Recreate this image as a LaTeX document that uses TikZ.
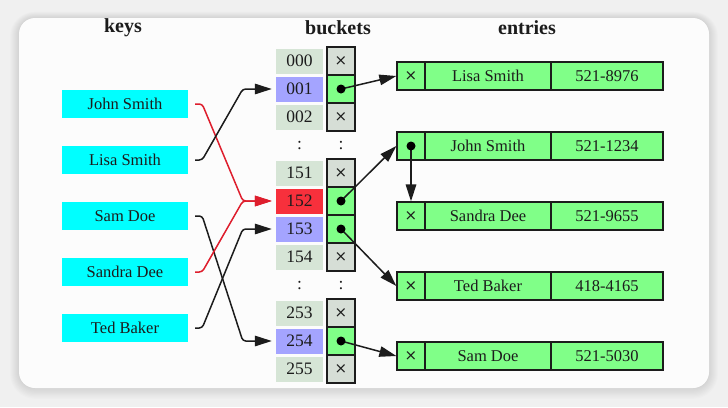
\documentclass[tikz,border=0pt]{standalone}
\usepackage{fontspec}
\setmainfont{Liberation Serif}
\newfontfamily\crossfont{DejaVu Sans}
\usetikzlibrary{arrows.meta}
\definecolor{bgout}{RGB}{240,240,240}
\definecolor{panelc}{RGB}{252,252,252}
\definecolor{ink}{RGB}{28,28,28}
\definecolor{keyc}{RGB}{0,255,255}
\definecolor{nullc}{RGB}{214,229,214}
\definecolor{ptrnull}{RGB}{214,222,214}
\definecolor{usedc}{RGB}{164,164,255}
\definecolor{hitc}{RGB}{247,48,60}
\definecolor{greenc}{RGB}{128,255,136}
\definecolor{redl}{RGB}{222,30,45}
\tikzset{
  txt/.style={text=ink, font=\fontsize{16.5}{19}\selectfont, inner sep=0pt},
  labtxt/.style={text=ink, font=\fontsize{17.5}{19}\selectfont, inner sep=0pt},
  crosstxt/.style={text=ink, font=\crossfont\fontsize{15}{17}\selectfont, inner sep=0pt},
  hdr/.style={text=ink, font=\fontsize{20}{23}\selectfont\bfseries, inner sep=0pt},
  keybox/.style={txt, fill=keyc, minimum width=126pt, minimum height=28pt},
  labcell/.style={labtxt, minimum width=47pt, minimum height=25pt},
  ptrcell/.style={crosstxt, draw=ink, line width=1.3pt, minimum width=28pt, minimum height=28pt},
  entcell/.style={txt, draw=ink, line width=1.3pt, fill=greenc, minimum height=28pt},
  entptr/.style={crosstxt, draw=ink, line width=1.3pt, fill=greenc, minimum height=28pt, minimum width=28pt},
  arr/.style={draw=ink, line width=1.5pt, -{Triangle[length=17pt,width=10.5pt]}},
  keyarr/.style={arr, rounded corners=3pt},
  redarr/.style={keyarr, color=redl},
  dotc/.style={fill=black}
}
\begin{document}
\begin{tikzpicture}[x=1pt,y=-1pt]
\useasboundingbox (0,0) rectangle (728,407);
\fill[bgout] (0,0) rectangle (728,407);
\foreach \s in {1,...,9}{
  \fill[black,opacity=0.011,rounded corners={16pt+\s pt}] ({19-\s},{18-\s*0.7}) rectangle ({709+\s},{388+\s*1.2});
}
\fill[panelc, rounded corners=16pt] (19,18) rectangle (709,388);

% headers
\node[hdr] (hk) at (123,28) {keys};
\node[hdr] (hb) at (338,28) {buckets};
\node[hdr] (he) at (527,28) {entries};

% keys
\node[keybox] (k1) at (125,104) {John Smith};
\node[keybox] (k2) at (125,160) {Lisa Smith};
\node[keybox] (k3) at (125,216) {Sam Doe};
\node[keybox] (k4) at (125,272) {Sandra Dee};
\node[keybox] (k5) at (125,328) {Ted Baker};

% bucket labels
\node[labcell, fill=nullc] (L0) at (299.5,61) {000};
\node[labcell, fill=usedc] (L1) at (299.5,89) {001};
\node[labcell, fill=nullc] (L2) at (299.5,117) {002};
\node[labcell, fill=nullc] (L4) at (299.5,173) {151};
\node[labcell, fill=hitc] (L5) at (299.5,201) {152};
\node[labcell, fill=usedc] (L6) at (299.5,229) {153};
\node[labcell, fill=nullc] (L7) at (299.5,257) {154};
\node[labcell, fill=nullc] (L9) at (299.5,313) {253};
\node[labcell, fill=usedc] (L10) at (299.5,341) {254};
\node[labcell, fill=nullc] (L11) at (299.5,369) {255};
\node[labtxt] (d1) at (299.5,146) {:};
\node[labtxt] (d2) at (341,146) {:};
\node[labtxt] (d3) at (299.5,286) {:};
\node[labtxt] (d4) at (341,286) {:};

% bucket pointers
\node[ptrcell, fill=ptrnull] (P0) at (341,61) {×};
\node[ptrcell, fill=greenc] (P1) at (341,89) {};
\node[ptrcell, fill=ptrnull] (P2) at (341,117) {×};
\node[ptrcell, fill=ptrnull] (P4) at (341,173) {×};
\node[ptrcell, fill=greenc] (P5) at (341,201) {};
\node[ptrcell, fill=greenc] (P6) at (341,229) {};
\node[ptrcell, fill=ptrnull] (P7) at (341,257) {×};
\node[ptrcell, fill=ptrnull] (P9) at (341,313) {×};
\node[ptrcell, fill=greenc] (P10) at (341,341) {};
\node[ptrcell, fill=ptrnull] (P11) at (341,369) {×};

% entries
\foreach \n/\y/\name/\num/\p in {1/76/Lisa Smith/521-8976/×, 2/146/John Smith/521-1234/{}, 3/216/Sandra Dee/521-9655/×, 4/286/Ted Baker/418-4165/×, 5/356/Sam Doe/521-5030/×}{
  \node[entptr] (E\n p) at (411,\y) {\p};
  \node[entcell, minimum width=126pt] (E\n n) at (488,\y) {\name};
  \node[entcell, minimum width=112pt] (E\n v) at (607,\y) {\num};
}

% key -> bucket connectors
\draw[redarr] ([xshift=7pt]k1.east) -- ++(7,0) -- ([xshift=-33pt]L5.west) -- ([xshift=-4pt]L5.west);
\draw[keyarr] ([xshift=7pt]k2.east) -- ++(7,0) -- ([xshift=-33pt]L1.west) -- ([xshift=-4pt]L1.west);
\draw[keyarr] ([xshift=7pt]k3.east) -- ++(7,0) -- ([xshift=-33pt]L10.west) -- ([xshift=-4pt]L10.west);
\draw[redarr] ([xshift=7pt]k4.east) -- ++(7,0) -- ([xshift=-33pt]L5.west) -- ([xshift=-4pt]L5.west);
\draw[keyarr] ([xshift=7pt]k5.east) -- ++(7,0) -- ([xshift=-33pt]L6.west) -- ([xshift=-4pt]L6.west);

% bucket -> entry connectors
\draw[arr] (P1.center) -- (E1p.west);
\draw[arr] (P5.center) -- (E2p.west);
\draw[arr] (P6.center) -- (E4p.west);
\draw[arr] (P10.center) -- (E5p.west);
\draw[arr] (E2p.center) -- (E3p.north);

% dots
\foreach \c in {P1,P5,P6,P10,E2p}{
  \fill[dotc] (\c.center) circle[radius=4.5pt];
}
\end{tikzpicture}
\end{document}
